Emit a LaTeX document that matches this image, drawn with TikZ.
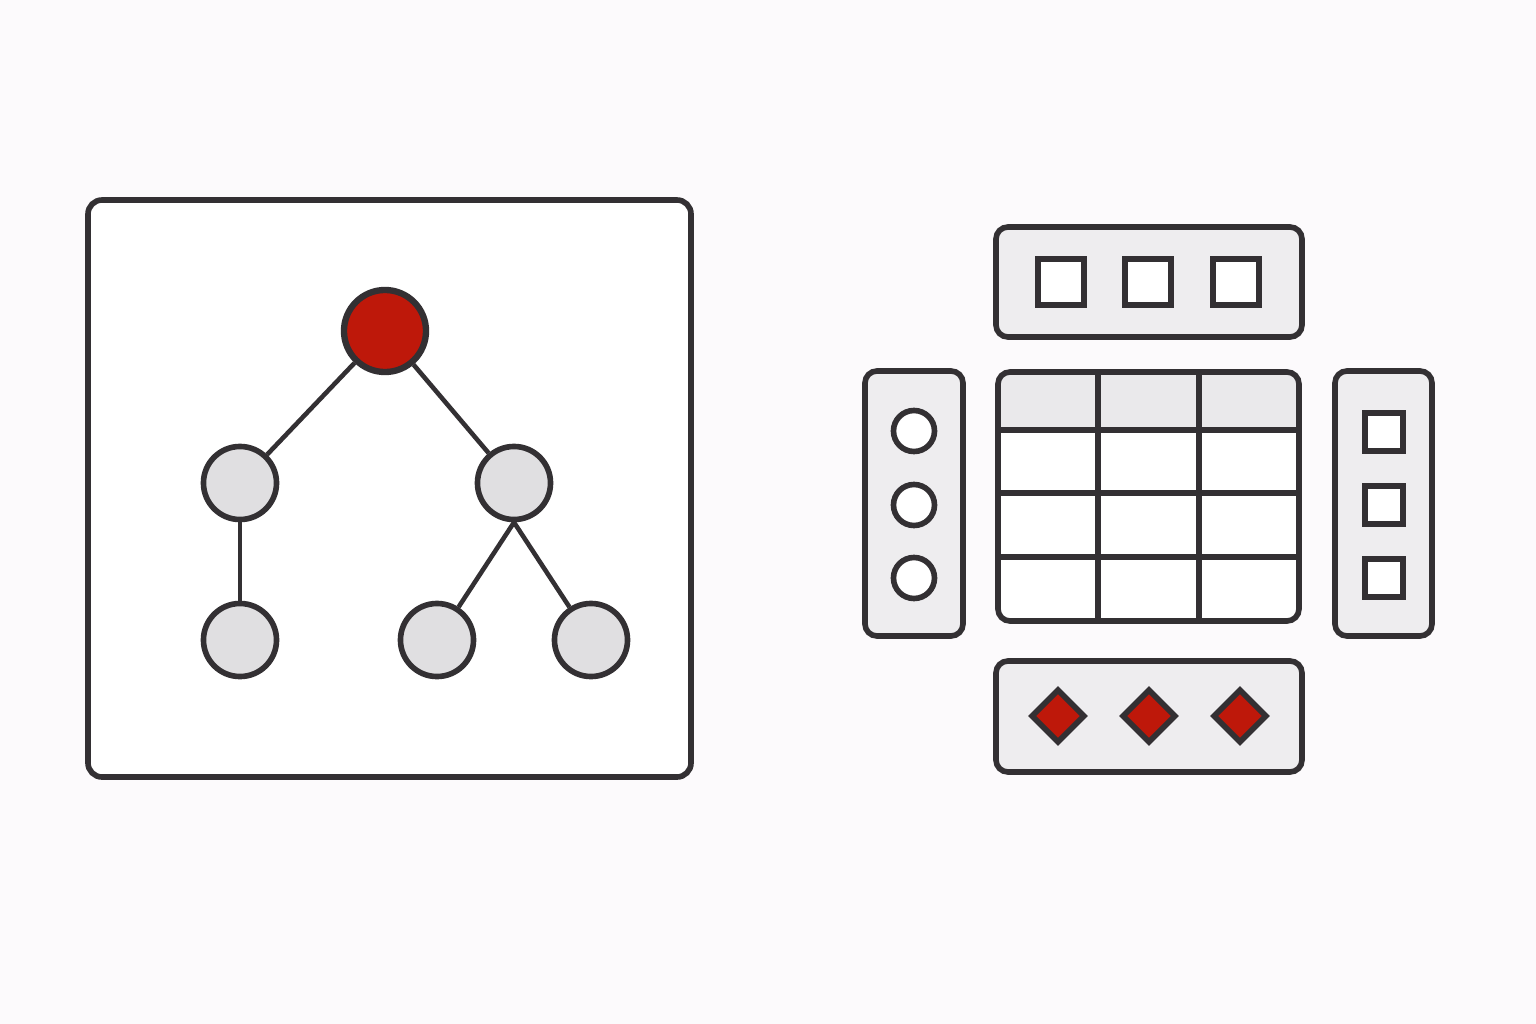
\documentclass[tikz,border=0pt]{standalone}
\usetikzlibrary{shapes.geometric}
\definecolor{bg}{HTML}{FCFAFC}
\definecolor{ink}{HTML}{333033}
\definecolor{panelfill}{HTML}{EEEDEF}
\definecolor{nodegray}{HTML}{E0DFE1}
\definecolor{hdrgray}{HTML}{EAE9EB}
\definecolor{redfill}{HTML}{BE180A}
\begin{document}
\begin{tikzpicture}[x=0.01cm,y=-0.01cm,
  ln/.style={draw=ink,line width=1.6pt},
  outerbox/.style={ln,fill=white,rounded corners=0.14cm},
  panel/.style={ln,fill=panelfill,rounded corners=0.12cm},
  tnode/.style={ln,circle,fill=nodegray,minimum size=0.73cm,inner sep=0pt},
  rootnode/.style={ln,line width=1.8pt,circle,fill=redfill,minimum size=0.82cm,inner sep=0pt},
  edge/.style={ln,line width=1.3pt},
  sqr/.style={ln,fill=white,rectangle,minimum size=0.46cm,inner sep=0pt},
  smsq/.style={ln,fill=white,rectangle,minimum size=0.38cm,inner sep=0pt},
  ring/.style={ln,fill=white,circle,minimum size=0.41cm,inner sep=0pt},
  dmd/.style={ln,fill=redfill,diamond,minimum size=0.54cm,inner sep=0pt}]
\fill[bg] (0,0) rectangle (1536,1024);
\useasboundingbox (0,0) rectangle (1536,1024);
% left box
\draw[outerbox] (88,200) rectangle (691,777);
% tree
\node[rootnode] (r) at (385,331) {};
\node[tnode] (a) at (240,483) {};
\node[tnode] (b) at (514,483) {};
\node[tnode] (c) at (240,640) {};
\node[tnode] (d) at (437,640) {};
\node[tnode] (e) at (591,640) {};
\draw[edge] (r) -- (a);
\draw[edge] (r) -- (b);
\draw[edge] (a) -- (c);
\draw[edge] (b.south) -- (d);
\draw[edge] (b.south) -- (e);
% top panel
\draw[panel] (996,227) rectangle (1302,337);
\node[sqr] (t1) at (1061,282) {};
\node[sqr] (t2) at (1148,282) {};
\node[sqr] (t3) at (1236,282) {};
% left panel
\draw[panel] (865,371) rectangle (963,636);
\node[ring] (l1) at (914,431) {};
\node[ring] (l2) at (914,505) {};
\node[ring] (l3) at (914,578) {};
% right panel
\draw[panel] (1335,371) rectangle (1432,636);
\node[smsq] (q1) at (1384,432) {};
\node[smsq] (q2) at (1384,505) {};
\node[smsq] (q3) at (1384,578) {};
% bottom panel
\draw[panel] (996,661) rectangle (1302,772);
\node[dmd] (d1) at (1058,716) {};
\node[dmd] (d2) at (1149,716) {};
\node[dmd] (d3) at (1240,716) {};
% table
\begin{scope}
\clip[rounded corners=0.12cm] (998,372) rectangle (1299,621);
\fill[white] (998,372) rectangle (1299,621);
\fill[hdrgray] (998,372) rectangle (1299,430);
\end{scope}
\draw[ln] (998,430) -- (1299,430);
\draw[ln] (998,493) -- (1299,493);
\draw[ln] (998,557) -- (1299,557);
\draw[ln] (1098,372) -- (1098,621);
\draw[ln] (1199,372) -- (1199,621);
\draw[ln,rounded corners=0.12cm] (998,372) rectangle (1299,621);
\end{tikzpicture}
\end{document}
